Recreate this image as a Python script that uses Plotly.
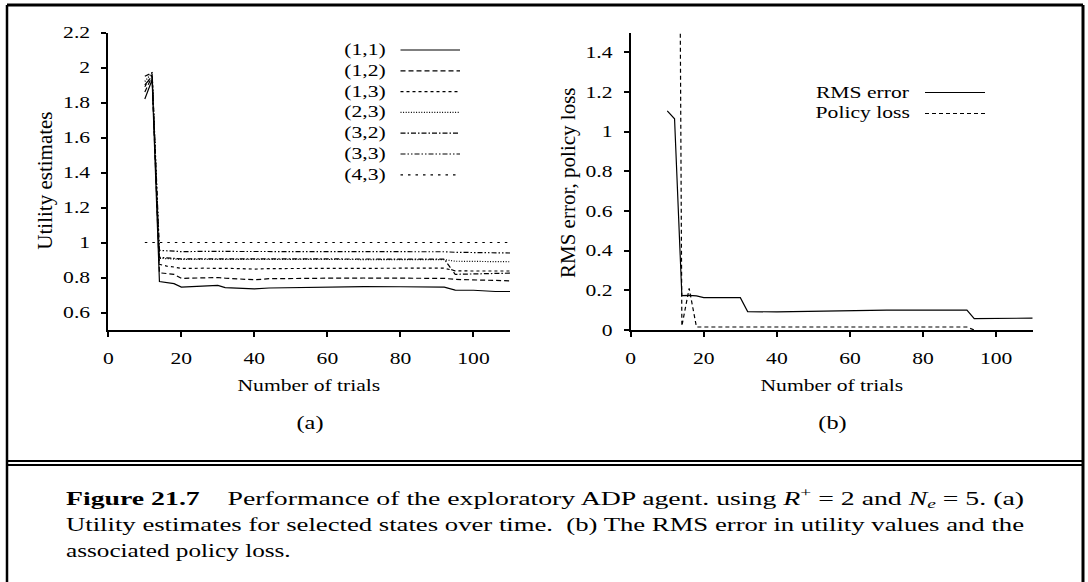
import json
import plotly.graph_objects as go

W, H = 1088, 582

# ---------------- data ----------------
trials = [10, 12, 14, 16, 18, 20, 26, 30, 32, 36, 40, 44, 50, 60, 70, 80, 92, 95, 100, 106, 110]
u_11 = [1.82, 1.93, 0.777, 0.772, 0.765, 0.745, 0.752, 0.755, 0.742, 0.740, 0.735, 0.740, 0.742, 0.744, 0.748, 0.747, 0.745, 0.728, 0.727, 0.720, 0.720]
u_12 = [1.86, 1.95, 0.827, 0.822, 0.818, 0.795, 0.797, 0.800, 0.796, 0.793, 0.787, 0.793, 0.795, 0.796, 0.797, 0.796, 0.795, 0.789, 0.786, 0.781, 0.781]
u_13 = [1.89, 1.96, 0.875, 0.865, 0.860, 0.852, 0.853, 0.854, 0.852, 0.851, 0.848, 0.851, 0.852, 0.853, 0.853, 0.853, 0.853, 0.838, 0.837, 0.837, 0.837]
u_23 = [1.92, 1.97, 0.910, 0.908, 0.906, 0.903, 0.904, 0.904, 0.902, 0.902, 0.900, 0.902, 0.903, 0.903, 0.904, 0.903, 0.902, 0.893, 0.892, 0.890, 0.890]
u_32 = [1.90, 1.95, 0.915, 0.912, 0.910, 0.906, 0.907, 0.907, 0.905, 0.905, 0.903, 0.905, 0.906, 0.906, 0.907, 0.906, 0.905, 0.818, 0.820, 0.823, 0.825]
u_33 = [1.95, 1.97, 0.955, 0.953, 0.951, 0.948, 0.949, 0.949, 0.948, 0.947, 0.946, 0.947, 0.948, 0.948, 0.949, 0.948, 0.947, 0.944, 0.942, 0.940, 0.940]
u_43 = [1.0, 1.0, 1.0, 1.0, 1.0, 1.0, 1.0, 1.0, 1.0, 1.0, 1.0, 1.0, 1.0, 1.0, 1.0, 1.0, 1.0, 1.0, 1.0, 1.0, 1.0]
state_labels = ["(1,1)", "(1,2)", "(1,3)", "(2,3)", "(3,2)", "(3,3)", "(4,3)"]

rms_trials = [10, 12, 14, 16, 18, 20, 30, 32, 40, 50, 60, 70, 80, 92, 94, 100, 110]
rms_error = [1.105, 1.065, 0.173, 0.175, 0.172, 0.163, 0.163, 0.093, 0.091, 0.095, 0.098, 0.100, 0.100, 0.100, 0.057, 0.058, 0.060]
loss_trials = [12, 14, 16, 18, 20, 40, 60, 80, 92, 94]
policy_loss = [7.0, 0.02, 0.21, 0.015, 0.015, 0.015, 0.015, 0.015, 0.015, 0.0]
err_labels = ["RMS error", "Policy loss"]

x_ticks = [0, 20, 40, 60, 80, 100]
x_tick_labels = ["0", "20", "40", "60", "80", "100"]
util_ticks = [0.6, 0.8, 1.0, 1.2, 1.4, 1.6, 1.8, 2.0, 2.2]
util_tick_labels = ["0.6", "0.8", "1", "1.2", "1.4", "1.6", "1.8", "2", "2.2"]
err_ticks = [0.0, 0.2, 0.4, 0.6, 0.8, 1.0, 1.2, 1.4]
err_tick_labels = ["0", "0.2", "0.4", "0.6", "0.8", "1", "1.2", "1.4"]

# ---------------- styles ----------------
FONT = "Liberation Serif, Times New Roman, serif"
util_dash = ["solid", "5px,3px", "3px,3px", "1px,1.6px", "5px,2px,1.5px,2px",
             "5px,2px,1.5px,2px,1.5px,2px", "2.5px,5px"]
err_dash = ["solid", "4px,3px"]
LW = 1.2


def px(x):
    return x / W


def py(y):
    return 1 - y / H


util_series = [u_11, u_12, u_13, u_23, u_32, u_33, u_43]

fig = go.Figure()
for name, vals, dash in zip(state_labels, util_series, util_dash):
    fig.add_trace(go.Scatter(x=trials, y=vals, mode="lines", name=name,
                             line=dict(color="black", width=LW, dash=dash),
                             xaxis="x", yaxis="y"))
for name, xs, vals, dash in zip(err_labels, [rms_trials, loss_trials],
                                [rms_error, policy_loss], err_dash):
    fig.add_trace(go.Scatter(x=xs, y=vals, mode="lines", name=name,
                             line=dict(color="black", width=LW, dash=dash),
                             xaxis="x2", yaxis="y2"))

axis_common = dict(showline=True, linecolor="black", linewidth=2, ticks="outside",
                   ticklen=5, tickwidth=2, tickcolor="black", showgrid=False,
                   zeroline=False, tickfont=dict(family=FONT, size=16, color="black"),
                   ticklabelstandoff=8, automargin=False)

y_dom = [py(330), py(32.5)]
fig.update_layout(
    width=W, height=H, margin=dict(l=0, r=0, t=0, b=0, pad=0, autoexpand=False),
    paper_bgcolor="white", plot_bgcolor="white", showlegend=False,
    xaxis=dict(domain=[px(108.3), px(510)], range=[0, 110], anchor="y",
               tickvals=x_ticks, ticktext=x_tick_labels, **axis_common),
    yaxis=dict(domain=y_dom, range=[0.5, 2.2], anchor="x",
               tickvals=util_ticks, ticktext=util_tick_labels, **axis_common),
    xaxis2=dict(domain=[px(630.7), px(1032.7)], range=[0, 110], anchor="y2",
                tickvals=x_ticks, ticktext=x_tick_labels, **axis_common),
    yaxis2=dict(domain=y_dom, range=[0, 1.5], anchor="x2",
                tickvals=err_ticks, ticktext=err_tick_labels, **axis_common),
)

annotations = []
stretch = {}  # annotation index -> {"k": factor} or {"len": px}


def add_ann(text, x, y, size, xanchor="center", angle=0, k=None, length=None):
    idx = len(annotations)
    annotations.append(dict(text=text, x=px(x), y=py(y), xref="paper", yref="paper",
                            xanchor=xanchor, yanchor="middle", showarrow=False,
                            textangle=angle, align=xanchor,
                            font=dict(family=FONT, size=size, color="black")))
    if k is not None:
        stretch[idx] = {"k": k}
    if length is not None:
        stretch[idx] = {"len": length}


S = 1.35
# axis titles
add_ann("Utility estimates", 44.7, 181, 21, angle=-90)
add_ann("RMS error, policy loss", 568, 183, 21, angle=-90)
add_ann("Number of trials", 309, 385, 16, k=S)
add_ann("Number of trials", 831.7, 385, 16, k=S)
add_ann("(a)", 310, 423, 18, k=S)
add_ann("(b)", 832, 423, 18, k=S)

# legends (text left of line sample)
shapes = []
for i, (name, dash) in enumerate(zip(state_labels, util_dash)):
    yy = 50 + 20.8 * i
    add_ann(name, 388, yy, 16, xanchor="right", k=S)
    shapes.append(dict(type="line", xref="paper", yref="paper", x0=px(400.5), x1=px(460),
                       y0=py(yy), y1=py(yy), line=dict(color="black", width=LW, dash=dash)))
for i, (name, dash) in enumerate(zip(err_labels, err_dash)):
    yy = 92.5 + 21 * i
    add_ann(name, 912, yy, 16, xanchor="right", k=S)
    shapes.append(dict(type="line", xref="paper", yref="paper", x0=px(925), x1=px(985),
                       y0=py(yy), y1=py(yy), line=dict(color="black", width=LW, dash=dash)))

# caption
cap1 = ("<b>Figure 21.7</b>\u00a0\u00a0\u00a0\u00a0Performance of the exploratory ADP agent. using "
        "<i>R</i><sup>+</sup> = 2 and <i>N</i><sub><i>e</i></sub> = 5. (a)")
cap2 = "Utility estimates for selected states over time.\u00a0 (b) The RMS error in utility values and the"
cap3 = "associated policy loss."
add_ann(cap1, 64, 498, 18, xanchor="left", length=958)
add_ann(cap2, 64, 525, 18, xanchor="left", length=958)
add_ann(cap3, 64, 551, 18, xanchor="left", k=1.4)

# frame
frame = [(7, 5, 1083, 5, 3), (7, 5, 7, 582, 2.5), (1083, 5, 1083, 582, 3),
         (7, 461, 1083, 461, 2), (7, 465, 1083, 465, 2)]
for x0, y0, x1, y1, w in frame:
    shapes.append(dict(type="line", xref="paper", yref="paper", x0=px(x0), x1=px(x1),
                       y0=py(y0), y1=py(y1), line=dict(color="black", width=w)))

fig.update_layout(annotations=annotations, shapes=shapes)

post = """
var st = document.createElement('style');
st.textContent = 'html,body{margin:0!important;padding:0!important;overflow:hidden!important;width:1088px;height:582px;}';
document.head.appendChild(st);
var gd = document.getElementById('{plot_id}');
var par = gd.parentNode;
par.style.margin = '0'; par.style.padding = '0'; par.style.lineHeight = '0';
par.style.height = '582px'; par.style.width = '1088px'; par.style.overflow = 'hidden';
var SPEC = %s; var S = %s;
function fit(t, len){ t.setAttribute('textLength', len.toFixed(2)); t.setAttribute('lengthAdjust','spacingAndGlyphs'); }
gd.querySelectorAll('.xtick text, .ytick text, .x2tick text, .y2tick text').forEach(function(t){ fit(t, t.getComputedTextLength()*S); });
gd.querySelectorAll('g.annotation').forEach(function(g){
  var s = SPEC[g.getAttribute('data-index')]; if(!s) return;
  var t = g.querySelector('text.annotation-text'); if(!t) return;
  fit(t, s.len ? s.len : t.getComputedTextLength()*s.k);
});
""" % (json.dumps({str(k): v for k, v in stretch.items()}), S)

fig.write_html("out.html", post_script=post, config={"displayModeBar": False})
